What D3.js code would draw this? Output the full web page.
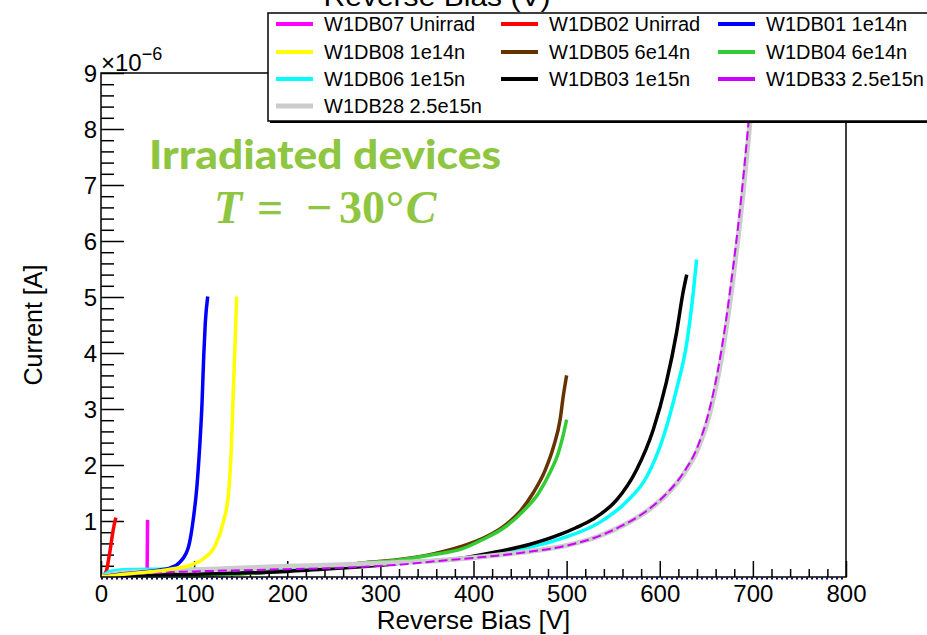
<!DOCTYPE html>
<html>
<head>
<meta charset="utf-8">
<script src="https://cdn.jsdelivr.net/npm/d3@7"></script>
<style>
  body { margin: 0; background: #fff; }
  svg { display: block; font-family: "Liberation Sans", Arial, Helvetica, sans-serif; }
</style>
</head>
<body>
<svg id="chart" width="927" height="635"></svg>
<script>
// I-V curves: reverse bias [V] vs current [1e-6 A]
const w1db07 = [[0,0],[10,0.003],[30,0.006],[49.5,0.01],[50,1.02]];
const w1db02 = [[0,0],[3,0.03],[6,0.12],[8,0.3],[10,0.5],[12,0.73],[14,0.92],[16,1.06]];
const w1db01 = [[0,0],[20,0.05],[40,0.08],[63,0.125],[74,0.16],[85,0.27],[94,0.54],[99,1.02],[103,1.62],[106,2.33],[108.5,3.11],[110.3,3.94],[112,4.54],[114.6,5.01]];
const w1db08 = [[0,0],[20,0.04],[50,0.09],[70,0.125],[81,0.155],[96,0.21],[110,0.33],[122,0.54],[131,0.96],[137,1.5],[140,2.33],[142,3.29],[144,4.18],[145.7,5.01]];
const w1db05 = [[0,0],[30,0.02],[80,0.03],[150,0.06],[200,0.11],[250,0.18],[280,0.25],[318,0.31],[353,0.4],[386,0.54],[410,0.69],[432,0.9],[450,1.17],[464,1.5],[477,1.91],[486,2.33],[493,2.81],[496.4,3.23],[500,3.6]];
const w1db04 = [[0,0],[30,0.02],[80,0.03],[150,0.06],[200,0.11],[250,0.18],[280,0.245],[318,0.3],[353,0.39],[389,0.51],[410,0.67],[432,0.87],[453,1.17],[470,1.5],[482,1.86],[491,2.21],[496,2.51],[500,2.81]];
const w1db06 = [[0,0],[10,0.1],[25,0.13],[50,0.14],[100,0.14],[150,0.15],[200,0.17],[250,0.2],[300,0.24],[350,0.28],[385,0.32],[430,0.43],[493,0.68],[536,0.98],[564,1.34],[586,1.79],[604,2.51],[618,3.35],[629,4.18],[636,5.08],[639.6,5.67]];
const w1db03 = [[0,0],[30,0.03],[100,0.05],[150,0.07],[200,0.1],[250,0.15],[300,0.21],[335,0.27],[385,0.33],[425,0.45],[460,0.58],[493,0.76],[510,0.88],[528,1.03],[554,1.38],[575,1.91],[593,2.63],[607,3.47],[618,4.36],[625,5.08],[629,5.4]];
const w1db33 = [[0,0],[50,0.07],[100,0.1],[150,0.12],[200,0.14],[267,0.17],[320,0.22],[371,0.3],[400,0.34],[450,0.43],[500,0.56],[530,0.7],[560,0.92],[585,1.17],[605,1.45],[625,1.85],[640,2.3],[652,2.9],[662,3.65],[670,4.45],[677,5.3],[683,6.1],[688,6.85],[693,7.7],[698,8.6],[703,9.6]];
const w1db28 = [[0,0],[20,0.07],[50,0.1],[100,0.13],[150,0.16],[200,0.19],[250,0.215],[300,0.245],[350,0.28],[401.5,0.35],[451.5,0.44],[501.5,0.57],[531.5,0.71],[561.5,0.93],[586.5,1.18],[606.5,1.46],[626.5,1.86],[641.5,2.31],[653.5,2.91],[663.5,3.66],[671.5,4.46],[678.5,5.31],[684.5,6.11],[689.5,6.86],[694.5,7.71],[699.5,8.61],[704.5,9.6]];

const seriesNames = ["W1DB07 Unirrad","W1DB02 Unirrad","W1DB01 1e14n","W1DB08 1e14n","W1DB05 6e14n","W1DB04 6e14n","W1DB06 1e15n","W1DB03 1e15n","W1DB33 2.5e15n","W1DB28 2.5e15n"];
const seriesData = [w1db07, w1db02, w1db01, w1db08, w1db05, w1db04, w1db06, w1db03, w1db33, w1db28];

const xTicks = [0,100,200,300,400,500,600,700,800];
const yTicks = [1,2,3,4,5,6,7,8,9];

// Styling per series (same order as seriesNames)
const seriesColors = ["#ff00ff","#ff0000","#0000ff","#ffff00","#663300","#33cc33","#00ffff","#000000","#cc00ff","#cccccc"];
const seriesWidths = [3.5,3.5,3.5,3.5,3.5,3.5,3.5,3.5,2,5];
const seriesDash   = [null,null,null,null,null,null,null,null,"9,4",null];
const drawOrder    = [0,1,4,5,6,7,9,8,2,3];

const svg = d3.select("#chart");
const x = d3.scaleLinear().domain([0, 800]).range([101, 846]);
const y = d3.scaleLinear().domain([0, 9]).range([577, 73]);
const axisFont = "'Liberation Sans', Arial, Helvetica, sans-serif";

// clip region for the plot frame
svg.append("defs").append("clipPath").attr("id", "frame")
  .append("rect").attr("x", x(0)).attr("y", y(9)).attr("width", x(800) - x(0)).attr("height", y(0) - y(9));

// x axis: major and minor ticks pointing inward
const xMinor = d3.range(0, 801, 20).filter(v => v % 100 !== 0);
const gxMinor = svg.append("g").attr("transform", `translate(0,${y(0)})`)
  .call(d3.axisBottom(x).tickValues(xMinor).tickSize(-8).tickFormat(""));
const gx = svg.append("g").attr("transform", `translate(0,${y(0)})`)
  .call(d3.axisBottom(x).tickValues(xTicks).tickSize(-16).tickPadding(8).tickFormat(d3.format("d")));
[gx, gxMinor].forEach(g => {
  g.select(".domain").remove();
  g.selectAll("line").attr("stroke", "#000").attr("stroke-width", 1.5);
});
gx.selectAll("text").attr("font-size", 24).attr("font-family", axisFont).attr("fill", "#000");

// y axis
const yMinor = d3.range(0, 45).map(i => i * 0.2).filter(v => Math.abs(v - Math.round(v)) > 1e-6);
const gyMinor = svg.append("g").attr("transform", `translate(${x(0)},0)`)
  .call(d3.axisLeft(y).tickValues(yMinor).tickSize(-13).tickFormat(""));
const gy = svg.append("g").attr("transform", `translate(${x(0)},0)`)
  .call(d3.axisLeft(y).tickValues(yTicks).tickSize(-23).tickPadding(5).tickFormat(d3.format("d")));
[gy, gyMinor].forEach(g => {
  g.select(".domain").remove();
  g.selectAll("line").attr("stroke", "#000").attr("stroke-width", 1.5);
});
gy.selectAll("text").attr("font-size", 24).attr("font-family", axisFont).attr("fill", "#000")
  .attr("x", -4).attr("dy", "0.36em");

// dotted baseline along zero current
svg.append("line").attr("x1", x(0)).attr("x2", x(800)).attr("y1", y(0) + 1.5).attr("y2", y(0) + 1.5)
  .attr("stroke", "#000080").attr("stroke-width", 2).attr("stroke-dasharray", "2,3");

// curves
const line = d3.line().x(d => x(d[0])).y(d => y(d[1])).curve(d3.curveMonotoneX);
const curves = svg.append("g").attr("clip-path", "url(#frame)");
drawOrder.forEach(i => {
  curves.append("path").datum(seriesData[i]).attr("d", line)
    .attr("fill", "none").attr("stroke", seriesColors[i]).attr("stroke-width", seriesWidths[i])
    .attr("stroke-linejoin", "round")
    .attr("stroke-dasharray", seriesDash[i]);
});

// frame drawn over the curves
svg.append("rect").attr("x", x(0)).attr("y", y(9)).attr("width", x(800) - x(0)).attr("height", y(0) - y(9))
  .attr("fill", "none").attr("stroke", "#000").attr("stroke-width", 1.5);

// axis titles
svg.append("text").attr("x", (x(0) + x(800)) / 2).attr("y", 629).attr("text-anchor", "middle")
  .attr("font-size", 26).attr("fill", "#000").text("Reverse Bias [V]");
svg.append("text").attr("transform", `translate(42,${(y(0) + y(9)) / 2}) rotate(-90)`).attr("text-anchor", "middle")
  .attr("font-size", 25).attr("fill", "#000").text("Current [A]");

// exponent label
const ex = svg.append("text").attr("x", 101).attr("y", 71).attr("font-size", 24).attr("fill", "#000");
ex.append("tspan").text("\u00d710");
ex.append("tspan").attr("font-size", 18).attr("dy", -11).text("\u22126");

// title (partly above the page)
svg.append("text").attr("x", 437).attr("y", 6).attr("text-anchor", "middle").attr("font-size", 28)
  .attr("fill", "#000").attr("textLength", 227).attr("lengthAdjust", "spacingAndGlyphs").text("Reverse Bias (V)");

// legend
const lg = svg.append("g");
lg.append("rect").attr("x", 270).attr("y", 15).attr("width", 680).attr("height", 108).attr("fill", "#000");
lg.append("rect").attr("x", 268).attr("y", 13).attr("width", 680).attr("height", 108)
  .attr("fill", "#fff").attr("stroke", "#000").attr("stroke-width", 1.5);
const colX = [324, 549, 766];
const rowY = [24, 52, 79, 106];
seriesNames.forEach((name, i) => {
  const tx = colX[i % 3], cy = rowY[Math.floor(i / 3)];
  lg.append("line").attr("x1", tx - 48).attr("x2", tx - 11).attr("y1", cy).attr("y2", cy)
    .attr("stroke", seriesColors[i]).attr("stroke-width", i === 9 ? 5 : 4);
  lg.append("text").attr("x", tx).attr("y", cy + 7).attr("font-size", 20).attr("fill", "#000").text(name);
});

// annotation
const green = "#8fc641";
svg.append("text").attr("x", 149).attr("y", 169)
  .style("font-family", "Lato, 'Open Sans', sans-serif").style("font-weight", 900)
  .attr("font-size", 39).attr("fill", green)
  .attr("textLength", 352).attr("lengthAdjust", "spacingAndGlyphs").text("Irradiated devices");
const mathParts = [
  {t: "T", cx: 228, it: true},
  {t: "=", cx: 270, it: false},
  {t: "\u2212", cx: 319, it: false},
  {t: "30", cx: 362, it: false},
  {t: "\u00b0", cx: 395, it: false},
  {t: "C", cx: 421, it: true}
];
mathParts.forEach(p => {
  svg.append("text").attr("x", p.cx).attr("y", 223).attr("text-anchor", "middle")
    .style("font-family", "'Liberation Serif', 'DejaVu Serif', serif").style("font-weight", 700)
    .style("font-style", p.it ? "italic" : "normal").attr("font-size", 46).attr("fill", green).text(p.t);
});
</script>
</body>
</html>
